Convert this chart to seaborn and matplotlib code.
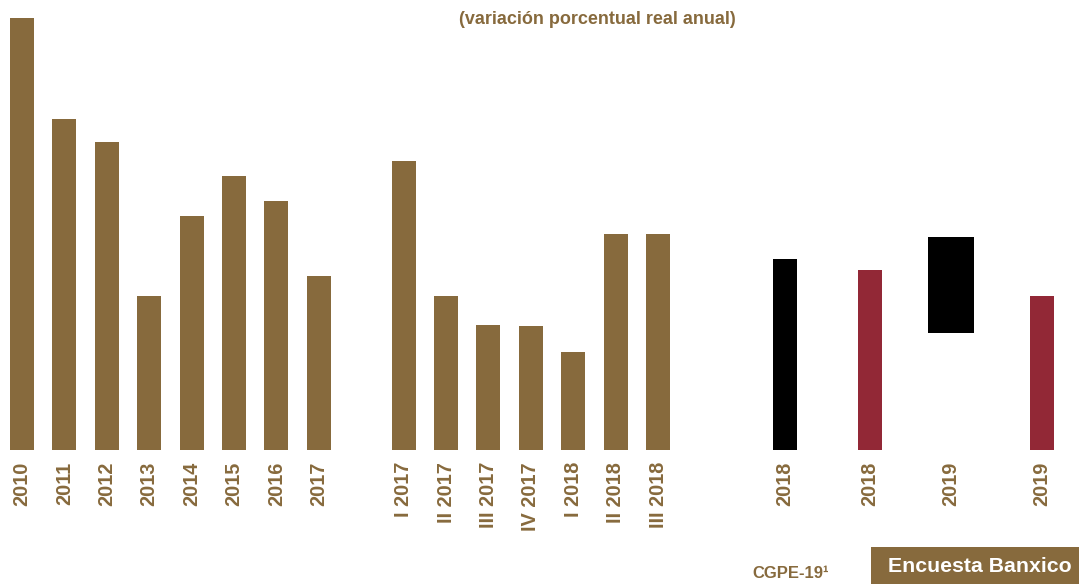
import matplotlib
matplotlib.use("Agg")
import matplotlib.pyplot as plt
from matplotlib.patches import Rectangle
import pandas as pd
import seaborn as sns

# Real annual GDP growth, %
annual_labels = ["2010", "2011", "2012", "2013", "2014", "2015", "2016", "2017"]
annual_values = [5.00, 3.83, 3.56, 1.78, 2.71, 3.17, 2.88, 2.01]

quarter_labels = ["I 2017", "II 2017", "III 2017", "IV 2017", "I 2018", "II 2018", "III 2018"]
quarter_values = [3.34, 1.78, 1.45, 1.44, 1.13, 2.50, 2.50]

# Forecasts: CGPE-19 ranges (low, high) and Banxico survey point values
cgpe_labels = ["2018", "2019"]
cgpe_low = [0.00, 1.35]
cgpe_high = [2.21, 2.47]

survey_labels = ["2018", "2019"]
survey_values = [2.08, 1.78]

BROWN = "#876A3D"
RED = "#922836"
BLACK = "#000000"

sns.set_theme(style="white")
plt.rcParams["font.family"] = ["Liberation Sans", "DejaVu Sans"]

W, H = 1079, 584
fig = plt.figure(figsize=(W / 100, H / 100), dpi=100)
base_px = 450
ax = fig.add_axes([0, (H - base_px) / H, 1, base_px / H])

BAR_W = 0.57

# slot positions along the x axis
annual_pos = list(range(0, 8))
quarter_pos = list(range(9, 16))
cgpe_pos = [18.0, 21.9]
survey_pos = [20.0, 24.05]

hist = pd.DataFrame({
    "pos": annual_pos + quarter_pos,
    "value": annual_values + quarter_values,
})
sns.barplot(data=hist, x="pos", y="value", native_scale=True, color=BROWN,
            width=BAR_W, saturation=1, errorbar=None, linewidth=0, ax=ax)

# seaborn scales native widths by the spacing between positions
surv = pd.DataFrame({"pos": survey_pos, "value": survey_values})
sns.barplot(data=surv, x="pos", y="value", native_scale=True, color=RED,
            width=BAR_W / (survey_pos[1] - survey_pos[0]), saturation=1,
            errorbar=None, linewidth=0, ax=ax)

# CGPE ranges as floating bars
cgpe_widths = [BAR_W, 1.085]
for p, lo, hi, w in zip(cgpe_pos, cgpe_low, cgpe_high, cgpe_widths):
    rng = pd.DataFrame({"pos": [p], "value": [hi - lo]})
    sns.barplot(data=rng, x="pos", y="value", native_scale=True, color=BLACK,
                width=w, saturation=1, errorbar=None, bottom=lo, linewidth=0,
                ax=ax)

px_per_slot = 42.4
x0 = -22 / px_per_slot
ax.set_xlim(x0, x0 + W / px_per_slot)
ax.set_ylim(0, base_px / 86.4)

ticks = annual_pos + quarter_pos + cgpe_pos + survey_pos
labels = annual_labels + quarter_labels + cgpe_labels + survey_labels
ax.set_xticks(ticks)
ax.set_xticklabels(labels, rotation=90, ha="center", va="top",
                   fontsize=14.3, fontweight="bold", color=BROWN)
ax.tick_params(axis="x", length=0, pad=8.6)
ax.set_yticks([])
ax.set_xlabel("")
ax.set_ylabel("")
for s in ax.spines.values():
    s.set_visible(False)

fig.text(597 / W, 1 - 20 / H, "(variación porcentual real anual)",
         ha="center", va="center", fontsize=13, fontweight="bold", color=BROWN)

fig.text(791 / W, 1 - 573 / H, "CGPE-19\u00b9", ha="center", va="center",
         fontsize=12, fontweight="bold", color=BROWN)

fig.patches.append(Rectangle((871 / W, 0), (W - 871) / W, (H - 547) / H,
                             transform=fig.transFigure, facecolor=BROWN,
                             edgecolor="none", zorder=1))
fig.text(980 / W, 1 - 566 / H, "Encuesta Banxico", ha="center", va="center",
         fontsize=15.3, fontweight="bold", color="white", zorder=2)

fig.savefig("out.png", dpi=100, facecolor="white")
